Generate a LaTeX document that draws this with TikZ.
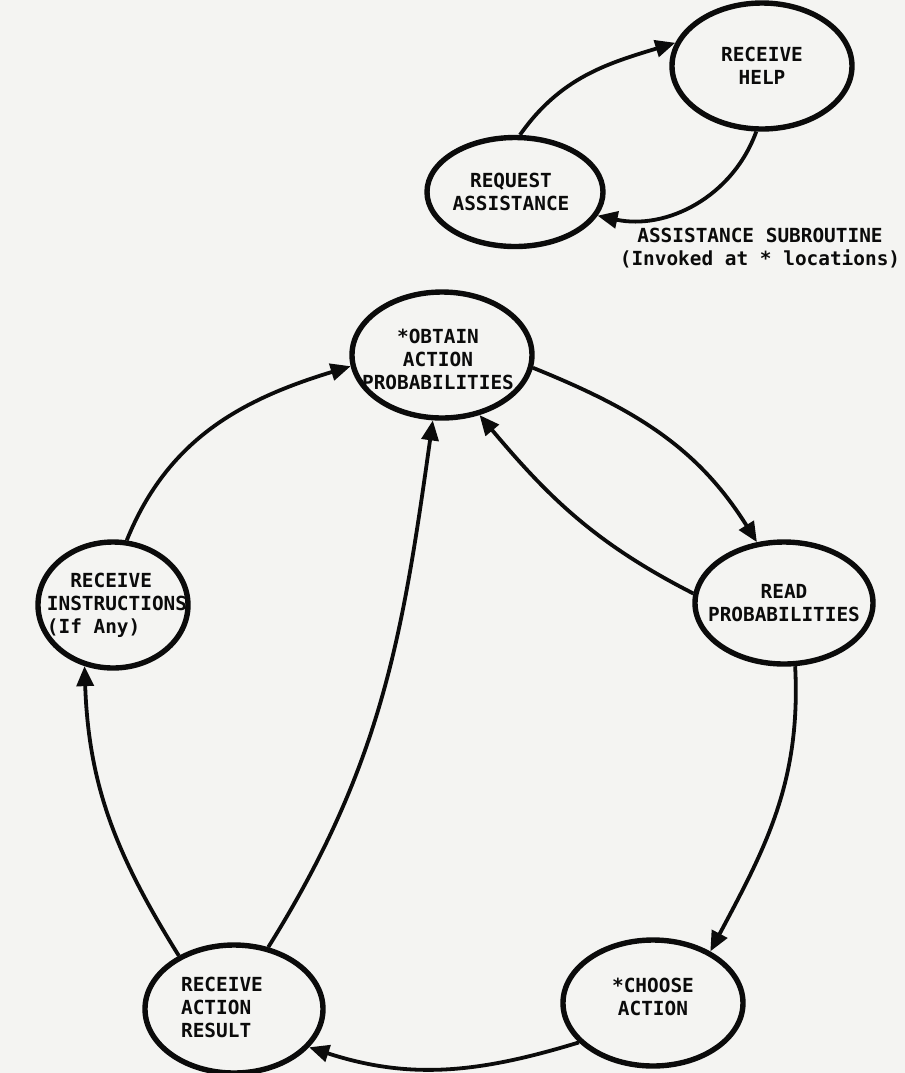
\documentclass[tikz,border=0pt]{standalone}
\usepackage{fontspec}
\setmonofont{DejaVu Sans Mono}
\usetikzlibrary{shapes.geometric,arrows.meta}
\definecolor{ink}{HTML}{0b0b0b}
\definecolor{paper}{HTML}{f4f4f2}
\tikzset{
  st/.style={ellipse,draw=ink,line width=2.7pt,minimum width=90pt,minimum height=63pt,inner sep=0pt},
  txt/.style={font=\ttfamily\bfseries\fontsize{9.7}{11.5}\selectfont,text=ink,align=center,inner sep=0pt},
  arr/.style={-{Triangle[length=10pt,width=8.5pt]},line width=1.9pt,draw=ink},
}
\begin{document}
\begin{tikzpicture}[x=0.5pt,y=-0.5pt]
\fill[paper] (0,0) rectangle (905,1073);
\useasboundingbox (0,0) rectangle (905,1073);
\node[st,label={[txt]center:{RECEIVE\\HELP}}] (help) at (762,66) {};
\node[st,minimum width=88pt,minimum height=54.5pt,label={[txt,xshift=-2pt]center:{REQUEST\\ASSISTANCE}}] (req) at (515,192) {};
\node[txt] (sub) at (760,248) {ASSISTANCE SUBROUTINE\\(Invoked at * locations)};
\node[st,label={[txt,xshift=-2pt,yshift=-2pt]center:{*OBTAIN\\ACTION\\PROBABILITIES}}] (obtain) at (442,355) {};
\node[st,minimum width=75pt,label={[txt,align=left,xshift=2pt]center:{\phantom{II}RECEIVE\\INSTRUCTIONS\\(If Any)}}] (instr) at (113,605) {};
\node[st,minimum width=89pt,minimum height=61pt,label={[txt]center:{READ\\PROBABILITIES}}] (read) at (784,603) {};
\node[st,minimum width=89pt,minimum height=64pt,label={[txt,align=left,xshift=-6pt,yshift=1pt]center:{RECEIVE\\ACTION\\RESULT}}] (result) at (234,1009) {};
\node[st,label={[txt,yshift=3pt]center:{*CHOOSE\\ACTION}}] (choose) at (653,1003) {};
\draw[arr] (req.85) to[out=55,in=197] (help.165);
\draw[arr] (help.-95) to[out=-110,in=-12] (req.-16);
\draw[arr] (instr.78) to[out=68,in=197] (obtain.187);
\draw[arr] (obtain.-8) to[out=-22,in=122] (read.114);
\draw[arr] (read.174) to[out=153,in=-50] (obtain.-58);
\draw[arr] (read.-80) to[out=-87,in=62] (choose.42);
\draw[arr] (choose.208) to[out=197,in=-18] (result.-27);
\draw[arr] (result.136) to[out=122,in=-88] (instr.-115);
\draw[arr] (result.61) to[out=58,in=-98] (obtain.-98);
\end{tikzpicture}
\end{document}
